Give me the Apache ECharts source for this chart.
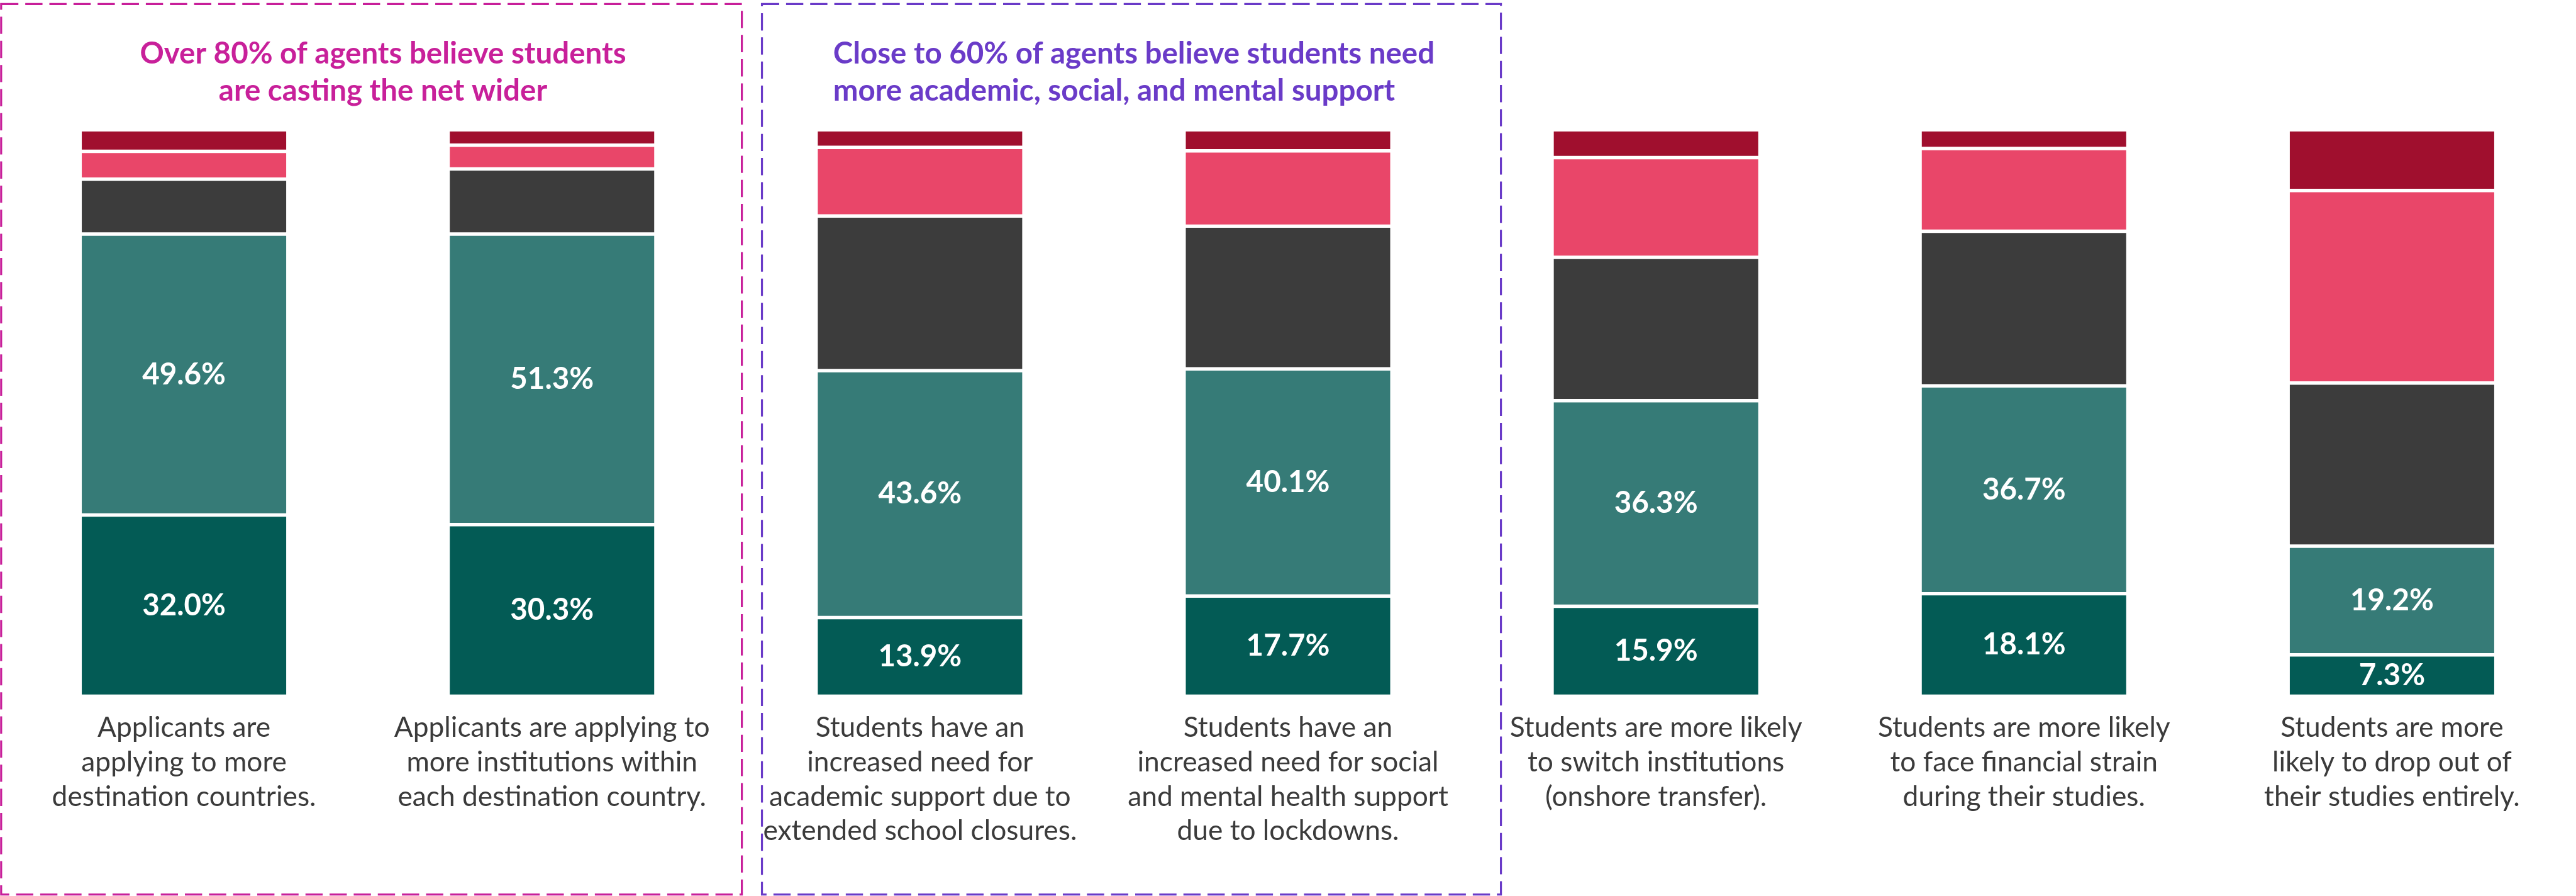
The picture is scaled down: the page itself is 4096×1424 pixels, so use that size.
<!DOCTYPE html>
<html>
<head>
<meta charset="utf-8">
<style>
  html, body { margin: 0; padding: 0; background: #ffffff; }
  #chart { width: 4096px; height: 1424px; }
</style>
<script src="https://cdn.jsdelivr.net/npm/echarts@6/dist/echarts.min.js"></script>
</head>
<body>
<div id="chart"></div>
<script>
// Survey statements (x-axis categories), one stacked 100% bar each
const statements = [
  'Applicants are\napplying to more\ndestination countries.',
  'Applicants are applying to\nmore institutions within\neach destination country.',
  'Students have an\nincreased need for\nacademic support due to\nextended school closures.',
  'Students have an\nincreased need for social\nand mental health support\ndue to lockdowns.',
  'Students are more likely\nto switch institutions\n(onshore transfer).',
  'Students are more likely\nto face financial strain\nduring their studies.',
  'Students are more\nlikely to drop out of\ntheir studies entirely.'
];

// Share of agents (%) per response, bottom of the stack first
const stronglyAgree    = [32.0, 30.3, 13.9, 17.7, 15.9, 18.1, 7.3];
const agree            = [49.6, 51.3, 43.6, 40.1, 36.3, 36.7, 19.2];
const neutral          = [9.7, 11.5, 27.3, 25.2, 25.3, 27.3, 28.8];
const disagree         = [4.9, 4.2, 12.1, 13.3, 17.6, 14.6, 34.0];
const stronglyDisagree = [3.8, 2.7, 3.1, 3.7, 4.9, 3.3, 10.7];

const headline1 = 'Over 80% of agents believe students\nare casting the net wider';
const headline2 = 'Close to 60% of agents believe students need\nmore academic, social, and mental support';

const S = 0.913; // drawing scale
const FONT = 'Lato, "Noto Sans", sans-serif';

const colors = {
  stronglyAgree: '#035B55',
  agree: '#367B77',
  neutral: '#3C3C3C',
  disagree: '#E94669',
  stronglyDisagree: '#A00F2E'
};

function barSeries(name, data, color, showLabel) {
  return {
    name: name,
    type: 'bar',
    stack: 'total',
    data: data,
    barWidth: 362 * S,
    itemStyle: { color: color, borderColor: '#ffffff', borderWidth: 3 * S },
    label: {
      show: showLabel,
      position: 'inside',
      color: '#ffffff',
      fontFamily: FONT,
      fontWeight: 'bold',
      fontSize: 52 * S,
      formatter: p => p.value.toFixed(1) + '%'
    },
    emphasis: { disabled: true }
  };
}

const chart = echarts.init(document.getElementById('chart'), null, { renderer: 'canvas' });

chart.setOption({
  animation: false,
  backgroundColor: '#ffffff',
  grid: {
    left: 0,
    top: 226 * S,
    width: 4592 * S,
    height: 986 * S,
    containLabel: false
  },
  xAxis: {
    type: 'category',
    data: statements,
    axisLine: { show: false },
    axisTick: { show: false },
    splitLine: { show: false },
    axisLabel: {
      interval: 0,
      color: '#3B3B3B',
      fontFamily: FONT,
      fontSize: 48.5 * S,
      lineHeight: 60 * S,
      margin: 25 * S,
      align: 'center'
    }
  },
  yAxis: {
    type: 'value',
    min: 0,
    max: 100,
    show: false,
    splitLine: { show: false }
  },
  series: [
    barSeries('Strongly agree', stronglyAgree, colors.stronglyAgree, true),
    barSeries('Agree', agree, colors.agree, true),
    barSeries('Neutral', neutral, colors.neutral, false),
    barSeries('Disagree', disagree, colors.disagree, false),
    barSeries('Strongly disagree', stronglyDisagree, colors.stronglyDisagree, false)
  ],
  graphic: [
    {
      type: 'rect',
      shape: { x: 2 * S, y: 7 * S, width: 1290 * S, height: 1550 * S },
      style: { fill: 'none', stroke: '#C8209A', lineWidth: 3.5 * S, lineDash: [30 * S, 12 * S] },
      silent: true
    },
    {
      type: 'rect',
      shape: { x: 1327 * S, y: 7 * S, width: 1287 * S, height: 1550 * S },
      style: { fill: 'none', stroke: '#6A3BC8', lineWidth: 3.5 * S, lineDash: [30 * S, 12 * S] },
      silent: true
    },
    {
      type: 'text',
      x: 667 * S,
      y: 62 * S,
      style: {
        text: headline1,
        fill: '#C8209A',
        font: 'bold ' + (52 * S) + 'px ' + FONT,
        lineHeight: 64 * S,
        align: 'center',
        verticalAlign: 'top'
      },
      silent: true
    },
    {
      type: 'text',
      x: 1451 * S,
      y: 62 * S,
      style: {
        text: headline2,
        fill: '#6A3BC8',
        font: 'bold ' + (52 * S) + 'px ' + FONT,
        lineHeight: 64 * S,
        align: 'left',
        verticalAlign: 'top'
      },
      silent: true
    }
  ]
});
</script>
</body>
</html>
